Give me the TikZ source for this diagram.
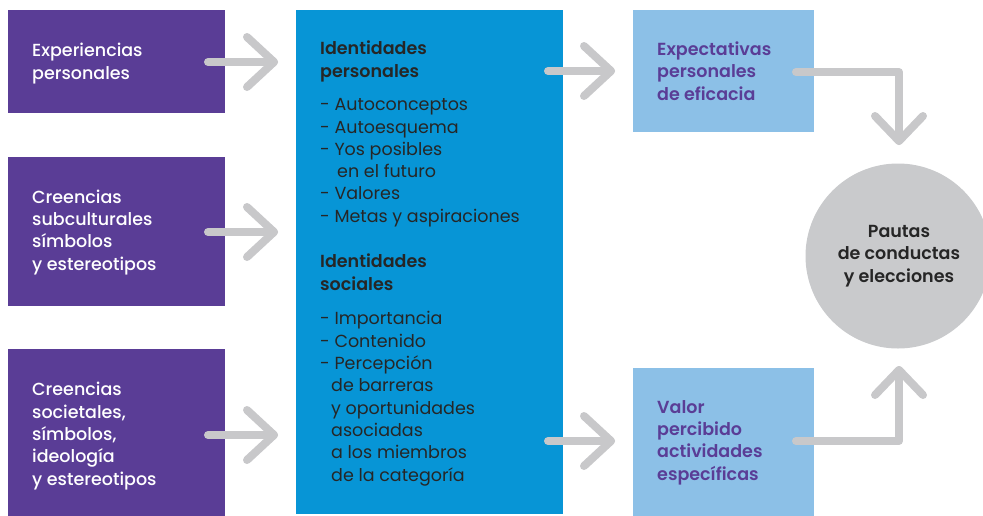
\documentclass[tikz,border=0pt]{standalone}
\usepackage{fontspec}
\setmainfont{Poppins}[BoldFont={Poppins SemiBold}]
\newfontfamily\medf{Poppins Medium}
\definecolor{purp}{HTML}{5A3D96}
\definecolor{cyanbox}{HTML}{0795D6}
\definecolor{lightbox}{HTML}{8CC0E7}
\definecolor{arrgray}{HTML}{C8C8CA}
\definecolor{circgray}{HTML}{C9CACC}
\definecolor{darktxt}{HTML}{262626}
\begin{document}
\begin{tikzpicture}[x=1pt,y=-1pt,
  box/.style={anchor=north west, inner sep=0pt, outer sep=0pt},
  txt/.style={anchor=base west, align=left, inner sep=0pt, font=\fontsize{17.5}{22.3}\selectfont},
  conn/.style={draw=arrgray, line width=8pt, line cap=round, line join=round}]
\useasboundingbox (0,0) rectangle (983,515);
\clip (0,0) rectangle (983,515);
% boxes
\node[box, fill=purp, minimum width=217pt, minimum height=103pt] (p1) at (8,10) {};
\node[box, fill=purp, minimum width=217pt, minimum height=149pt] (p2) at (8,157) {};
\node[box, fill=purp, minimum width=217pt, minimum height=170pt] (p3) at (8,349) {};
\node[box, fill=cyanbox, minimum width=267pt, minimum height=504pt] (mid) at (296,10) {};
\node[box, fill=lightbox, minimum width=181pt, minimum height=122pt] (e1) at (633,10) {};
\node[box, fill=lightbox, minimum width=181pt, minimum height=150pt] (e2) at (633,368) {};
\node[circle, fill=circgray, minimum size=185pt, inner sep=0pt] (c) at (898,256) {};
% texts (anchored at the baseline of their last line)
\node[txt, text=white, font=\fontsize{17.5}{22.3}\medf] (t1) at (32,79) {Experiencias\\personales};
\node[txt, text=white, font=\fontsize{17.5}{22.3}\medf] (t2) at (32,270) {Creencias\\subculturales\\símbolos\\y estereotipos};
\node[txt, text=white, font=\fontsize{17.5}{22.3}\medf] (t3) at (32,485) {Creencias\\societales,\\símbolos,\\ideología\\y estereotipos};
\node[txt, text=darktxt] (tm) at (320,481) {\textbf{Identidades}\\\textbf{personales}\\[11.2pt]
- Autoconceptos\\- Autoesquema\\- Yos posibles\\\hspace*{17pt}en el futuro\\- Valores\\- Metas y aspiraciones\\[23.3pt]
\textbf{Identidades}\\\textbf{sociales}\\[12.5pt]
- Importancia\\- Contenido\\- Percepción\\\hspace*{11pt}de barreras\\\hspace*{11pt}y oportunidades\\\hspace*{11pt}asociadas\\\hspace*{11pt}a los miembros\\\hspace*{11pt}de la categoría};
\node[txt, text=purp] (te1) at (657,100) {\textbf{Expectativas}\\\textbf{personales}\\\textbf{de eficacia}};
\node[txt, text=purp] (te2) at (657,480) {\textbf{Valor}\\\textbf{percibido}\\\textbf{actividades}\\\textbf{específicas}};
\node[txt, text=darktxt, anchor=base, align=center] (tc) at (899,282) {\textbf{Pautas}\\\textbf{de conductas}\\\textbf{y elecciones}};
% connectors
\coordinate (a1s) at (208,62);  \coordinate (a1t) at (274,62);
\coordinate (a2s) at (208,232); \coordinate (a2t) at (274,232);
\coordinate (a3s) at (208,435); \coordinate (a3t) at (274,435);
\coordinate (b1s) at (548,71);  \coordinate (b1t) at (611,71);
\coordinate (b2s) at (548,441); \coordinate (b2t) at (611,441);
\coordinate (d1s) at (796,72);  \coordinate (d1k) at (899,72);  \coordinate (d1t) at (899,141);
\coordinate (d2s) at (796,441); \coordinate (d2k) at (899,441); \coordinate (d2t) at (899,370);
\foreach \s/\t in {a1s/a1t,a2s/a2t,a3s/a3t,b1s/b1t,b2s/b2t}{
  \draw[conn] (\s) -- (\t);
  \draw[conn] (\t) ++(-27,-25) -- (\t) -- ++(-27,25);
}
\draw[conn] (d1s) -- (d1k) -- (d1t);
\draw[conn] (d1t) ++(-24,-25) -- (d1t) -- ++(24,-25);
\draw[conn] (d2s) -- (d2k) -- (d2t);
\draw[conn] (d2t) ++(-24,25) -- (d2t) -- ++(24,25);
\end{tikzpicture}
\end{document}
